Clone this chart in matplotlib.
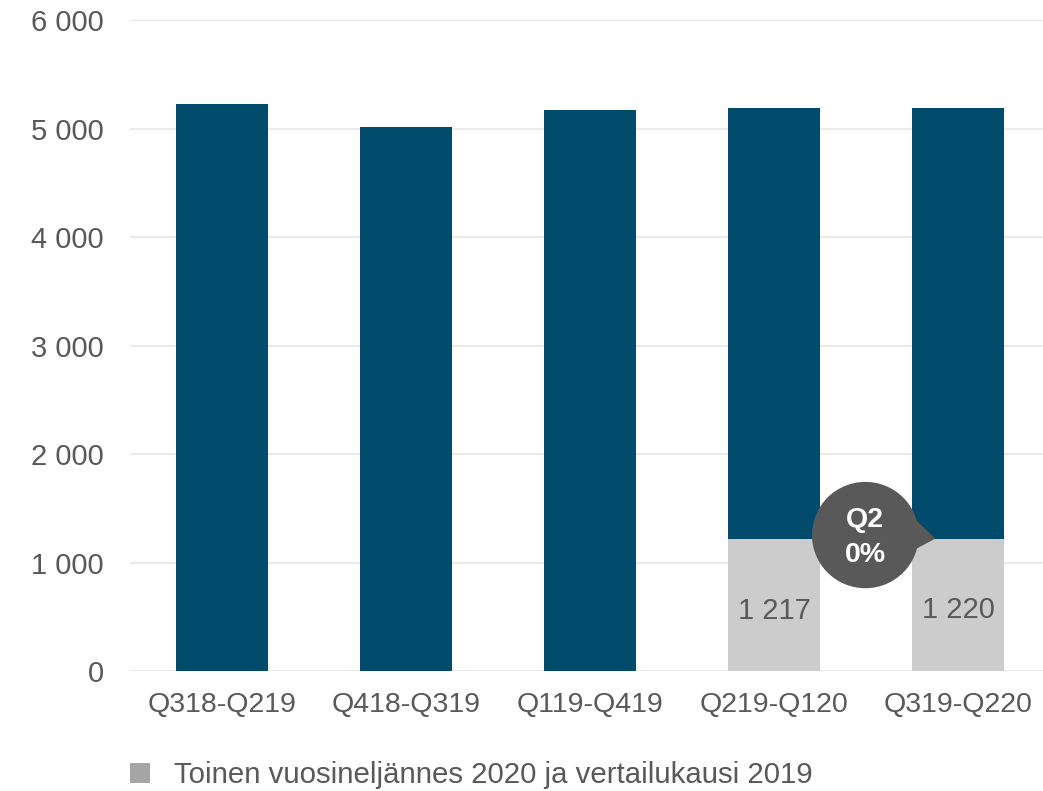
"""Rolling four-quarter totals with Q2 comparison overlay."""

import matplotlib
matplotlib.use("Agg")
import matplotlib.pyplot as plt
from matplotlib.patches import Ellipse, Polygon, Patch
from matplotlib.ticker import FuncFormatter, MultipleLocator

TEXT = "#595959"
DARK = "#004B6B"
LIGHT = "#CCCCCC"
LEGEND_GRAY = "#A6A6A6"
GRID = "#E6E6E6"

periods = ["Q318-Q219", "Q418-Q319", "Q119-Q419", "Q219-Q120", "Q319-Q220"]
totals = [5226, 5014, 5171, 5189, 5189]
q2_values = [None, None, None, 1217, 1220]
q2_change = "0%"

plt.rcParams.update({
    "font.family": ["Liberation Sans", "DejaVu Sans"],
    "font.size": 20.5,
})

fig = plt.figure(figsize=(10.43, 7.91), dpi=100)
ax = fig.add_axes([0.1246, 0.1517, 0.8754, 0.823])

x = range(len(periods))
ax.bar(x, totals, width=0.5, color=DARK, zorder=2)
for i, v in enumerate(q2_values):
    if v is None:
        continue
    ax.bar(i, v, width=0.5, color=LIGHT, zorder=3)
    ax.annotate(f"{v:,}".replace(",", " "), (i, v / 2), xytext=(0, -4),
                textcoords="offset points", ha="center", va="center",
                color=TEXT, fontsize=21, zorder=4)

ax.set_xlim(-0.5, 4.46)
ax.set_ylim(0, 6000)
ax.yaxis.set_major_locator(MultipleLocator(1000))
ax.yaxis.set_major_formatter(
    FuncFormatter(lambda v, _: f"{int(v):,}".replace(",", " ")))
ax.set_xticks(list(x))
ax.set_xticklabels(periods)
ax.tick_params(axis="y", length=0, pad=19, colors=TEXT, labelsize=21)
ax.tick_params(axis="x", length=0, pad=15, colors=TEXT, labelsize=20.5)
for s in ax.spines.values():
    s.set_visible(False)
ax.grid(axis="y", color=GRID, linewidth=1.2, zorder=0)
ax.set_axisbelow(True)

# callout bubble between the two comparable periods
cx, cy = 3.495, 1253
rx, ry = 0.29, 490
ax.add_patch(Polygon([(cx + 0.2, cy + 260), (3.875, 1220), (cx + 0.25, cy - 150)],
                     closed=True, color=TEXT, zorder=5, lw=0))
ax.add_patch(Ellipse((cx, cy), 2 * rx, 2 * ry, color=TEXT, zorder=5, lw=0))
ax.text(cx, cy + 140, "Q2", ha="center", va="center", color="white",
        fontsize=20.5, fontweight="bold", zorder=6)
ax.text(cx, cy - 180, q2_change, ha="center", va="center", color="white",
        fontsize=20.5, fontweight="bold", zorder=6)

handle = Patch(facecolor=LEGEND_GRAY, edgecolor="none")
fig.legend([handle], ["Toinen vuosineljännes 2020 ja vertailukausi 2019"],
           loc="center left", bbox_to_anchor=(0.1105, 0.02), frameon=False,
           handlelength=0.68, handleheight=0.68, handletextpad=0.8,
           labelcolor=TEXT, fontsize=21.2, borderpad=0)

fig.savefig("out.png", dpi=100, facecolor="white")
